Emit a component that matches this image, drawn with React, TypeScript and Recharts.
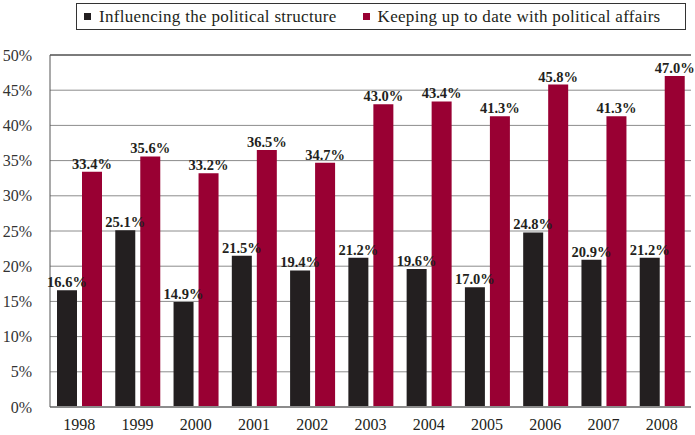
import React from "react";
import {
  BarChart,
  Bar,
  XAxis,
  YAxis,
  CartesianGrid,
  LabelList,
  ReferenceLine,
} from "recharts";

const years = ["1998", "1999", "2000", "2001", "2002", "2003", "2004", "2005", "2006", "2007", "2008"];
const influencing = [16.6, 25.1, 14.9, 21.5, 19.4, 21.2, 19.6, 17.0, 24.8, 20.9, 21.2];
const keepingUp = [33.4, 35.6, 33.2, 36.5, 34.7, 43.0, 43.4, 41.3, 45.8, 41.3, 47.0];
const yTicks = [0, 5, 10, 15, 20, 25, 30, 35, 40, 45, 50];
const seriesNames = ["Influencing the political structure", "Keeping up to date with political affairs"];

const data = years.map((y, i) => ({ year: y, influencing: influencing[i], keeping: keepingUp[i] }));

const FONT = "Liberation Serif, Times New Roman, DejaVu Serif, Noto Serif, serif";
const BLACK = "#231f20";
const RED = "#990033";

const LegendBox = () => (
  <div
    style={{
      position: "absolute",
      left: 76,
      top: 3,
      width: 610,
      height: 27,
      border: "1px solid #333",
      boxSizing: "border-box",
      display: "flex",
      alignItems: "center",
      fontFamily: FONT,
      fontSize: 17,
      letterSpacing: 0.3,
      color: BLACK,
      whiteSpace: "nowrap",
    }}
  >
    <span style={{ display: "inline-block", width: 7, height: 7, background: BLACK, marginLeft: 7, marginRight: 8 }} />
    <span>{seriesNames[0]}</span>
    <span style={{ display: "inline-block", width: 7, height: 7, background: RED, marginLeft: 26, marginRight: 8 }} />
    <span>{seriesNames[1]}</span>
  </div>
);

const fmt = (v: number) => `${v.toFixed(1)}%`;

export default function App() {
  return (
    <div style={{ position: "absolute", left: 0, top: 0, width: 695, height: 435, overflow: "hidden", background: "#fff" }}>
      <LegendBox />
      <BarChart
        width={720}
        height={435}
        data={data}
        margin={{ top: 55, right: 29, bottom: 0, left: 0 }}
        barSize={20}
        barGap={5}
      >
        <CartesianGrid horizontal vertical={false} stroke="#8c8c8c" strokeOpacity={1} />
        <ReferenceLine y={50} stroke="#333" strokeWidth={1} />
        <XAxis
          dataKey="year"
          axisLine={{ stroke: "#8c8c8c", strokeWidth: 2 }}
          tickLine={false}
          height={28}
          tick={{ fontFamily: FONT, fontSize: 16, fill: BLACK }}
          tickMargin={6}
        />
        <YAxis
          width={50}
          domain={[0, 50]}
          ticks={yTicks}
          tickFormatter={(v: number) => `${v}%`}
          axisLine={{ stroke: "#555" }}
          tickLine={false}
          tick={{ fontFamily: FONT, fontSize: 16, fill: "#333" }}
          tickMargin={12}
        />
        <Bar dataKey="influencing" name={seriesNames[0]} fill={BLACK} isAnimationActive={false}>
          <LabelList
            dataKey="influencing"
            position="top"
            offset={3}
            formatter={fmt}
            fontFamily={FONT}
            fontSize={14.5}
            fontWeight="bold"
            fill={BLACK}
          />
        </Bar>
        <Bar dataKey="keeping" name={seriesNames[1]} fill={RED} isAnimationActive={false}>
          <LabelList
            dataKey="keeping"
            position="top"
            offset={3}
            formatter={fmt}
            fontFamily={FONT}
            fontSize={14.5}
            fontWeight="bold"
            fill={BLACK}
          />
        </Bar>
      </BarChart>
    </div>
  );
}
